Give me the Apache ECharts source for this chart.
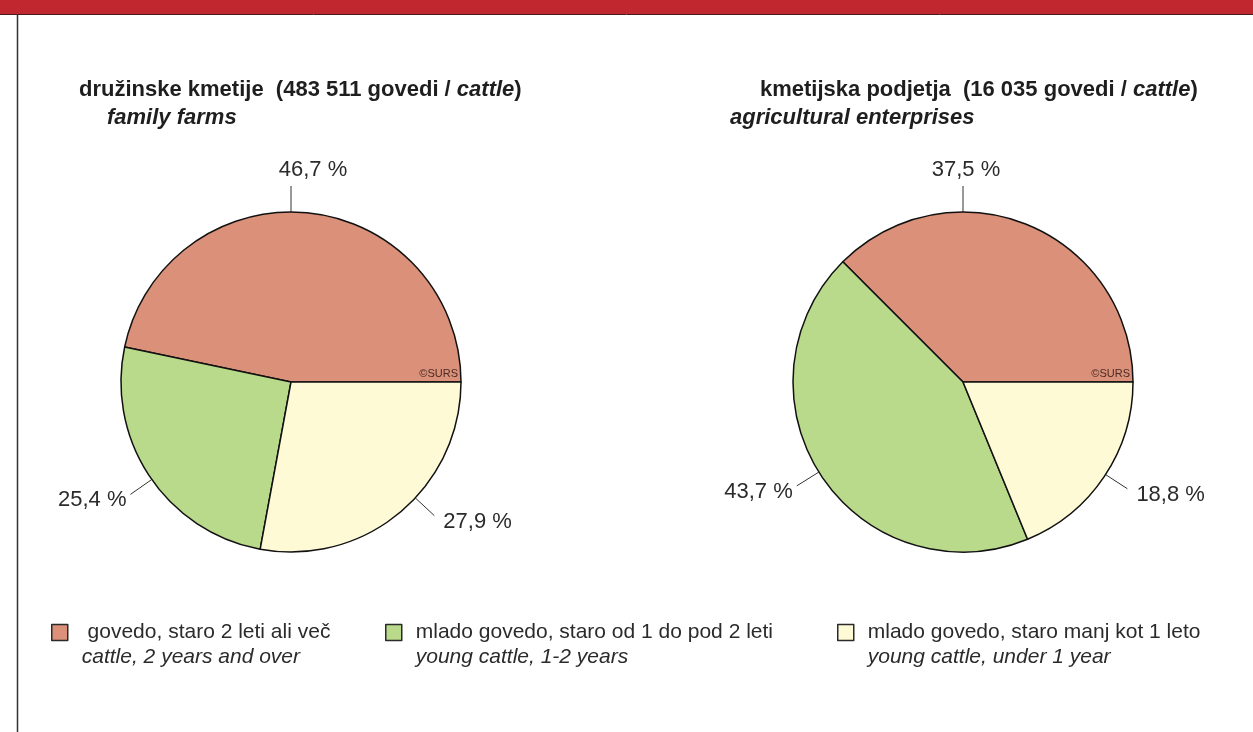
<!DOCTYPE html>
<html>
<head>
<meta charset="utf-8">
<script src="https://cdn.jsdelivr.net/npm/echarts@6/dist/echarts.min.js"></script>
<style>
  html, body { margin: 0; padding: 0; background: #fff; }
  #chart { width: 1253px; height: 732px; }
</style>
</head>
<body>
<div id="chart"></div>
<script>
// categories (Slovenian / English)
const categories = ['govedo, staro 2 leti ali več', 'mlado govedo, staro od 1 do pod 2 leti', 'mlado govedo, staro manj kot 1 leto'];
const categoriesEn = ['cattle, 2 years and over', 'young cattle, 1-2 years', 'young cattle, under 1 year'];

// shares in %
const familyFarms = [46.7, 25.4, 27.9];
const enterprises = [37.5, 43.7, 18.8];

const FONT = '"Liberation Sans", Arial, Helvetica, sans-serif';
const colors = ['#da9079', '#b9d98b', '#fffad6'];
const R = 170;
const LINE = 26;

// where the leader lines leave each pie (degrees, counterclockwise from 3 o'clock)
const pieCenters = [[291, 382], [963, 382]];
const labelAngles = [[90, 215, 317], [90, 212, 327]];
const topLabelDx = [22, 3];

function fmt(v) {
  return v.toFixed(1).replace('.', ',') + ' %';
}

function makeLabelLayout(s) {
  const cx = pieCenters[s][0], cy = pieCenters[s][1];
  return function (p) {
    const i = p.dataIndex;
    const a = labelAngles[s][i] * Math.PI / 180;
    const c = Math.cos(a), sn = -Math.sin(a);
    const x0 = cx + R * c, y0 = cy + R * sn;
    const x1 = cx + (R + LINE) * c, y1 = cy + (R + LINE) * sn;
    const pts = [[x0, y0], [x1, y1], [x1, y1]];
    if (i === 0) {
      return { x: x1 + topLabelDx[s], y: y1 - 16, align: 'center', verticalAlign: 'middle', labelLinePoints: pts };
    }
    const left = c < 0;
    return {
      x: x1 + (left ? -4 : 9),
      y: y1 + 6,
      align: left ? 'right' : 'left',
      verticalAlign: 'middle',
      labelLinePoints: pts
    };
  };
}

function pieSeries(s, values) {
  return {
    type: 'pie',
    center: pieCenters[s],
    radius: R,
    startAngle: 0,
    clockwise: false,
    silent: true,
    avoidLabelOverlap: false,
    animation: false,
    itemStyle: { borderColor: '#111', borderWidth: 1.5 },
    label: {
      show: true,
      formatter: p => fmt(p.value),
      fontFamily: FONT,
      fontSize: 22,
      color: '#2b2b2b'
    },
    labelLine: { show: true, length: LINE, length2: 0, lineStyle: { color: '#333', width: 1 } },
    labelLayout: makeLabelLayout(s),
    emphasis: { disabled: true },
    data: values.map((v, i) => ({ name: categories[i], value: v }))
  };
}

const legendPos = [51, 385, 837];

function legendItem(i) {
  return {
    left: legendPos[i],
    top: 622,
    padding: 0,
    icon: 'rect',
    itemWidth: 16,
    itemHeight: 16,
    selectedMode: false,
    data: [categories[i]],
    itemStyle: { borderColor: '#2a2a2a', borderWidth: 1.5 },
    formatter: name => '{a|' + (i === 0 ? ' ' : '') + name + '}\n{b|' + categoriesEn[i] + '}',
    textStyle: {
      padding: [25, 0, 0, 9],
      rich: {
        a: { fontFamily: FONT, fontSize: 21, color: '#2b2b2b', lineHeight: 25 },
        b: { fontFamily: FONT, fontSize: 21, fontStyle: 'italic', color: '#2b2b2b', lineHeight: 25 }
      }
    }
  };
}

const titleRich = {
  b: { fontFamily: FONT, fontSize: 22, fontWeight: 'bold', color: '#1e1e1e' },
  bi: { fontFamily: FONT, fontSize: 22, fontWeight: 'bold', fontStyle: 'italic', color: '#1e1e1e' }
};

const chart = echarts.init(document.getElementById('chart'));
chart.setOption({
  animation: false,
  color: colors,
  title: [
    { text: '{b|družinske kmetije  (483 511 govedi / }{bi|cattle}{b|)}', left: 79, top: 79, padding: 0, textStyle: { rich: titleRich } },
    { text: '{bi|family farms}', left: 107, top: 107, padding: 0, textStyle: { rich: titleRich } },
    { text: '{b|kmetijska podjetja  (16 035 govedi / }{bi|cattle}{b|)}', left: 760, top: 79, padding: 0, textStyle: { rich: titleRich } },
    { text: '{bi|agricultural enterprises}', left: 730, top: 107, padding: 0, textStyle: { rich: titleRich } }
  ],
  legend: [legendItem(0), legendItem(1), legendItem(2)],
  series: [pieSeries(0, familyFarms), pieSeries(1, enterprises)],
  graphic: [
    { type: 'rect', shape: { x: 0, y: 0, width: 1253, height: 14 }, style: { fill: '#c1272f' }, silent: true },
    { type: 'line', shape: { x1: 0, y1: 14.5, x2: 1253, y2: 14.5 }, style: { stroke: '#4a1a1a', lineWidth: 1 }, silent: true },
    { type: 'line', shape: { x1: 17.5, y1: 14, x2: 17.5, y2: 732 }, style: { stroke: '#333', lineWidth: 1.5 }, silent: true },
    { type: 'text', x: 458, y: 374, z: 10, silent: true,
      style: { text: '©SURS', font: '11px ' + FONT, fill: '#4a2a24', align: 'right', verticalAlign: 'middle' } },
    { type: 'text', x: 1130, y: 374, z: 10, silent: true,
      style: { text: '©SURS', font: '11px ' + FONT, fill: '#4a2a24', align: 'right', verticalAlign: 'middle' } }
  ]
});
</script>
</body>
</html>
